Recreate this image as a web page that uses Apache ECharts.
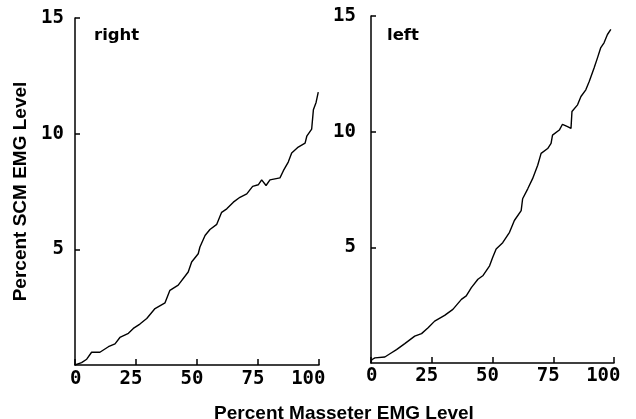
<!DOCTYPE html>
<html>
<head>
<meta charset="utf-8">
<script src="https://cdn.jsdelivr.net/npm/echarts@6/dist/echarts.min.js"></script>
<style>html,body{margin:0;padding:0;background:#fff}#c{width:636px;height:419px}</style>
</head>
<body>
<div id="c"></div>
<script>
// Panel "right": percent masseter EMG (x) vs percent SCM EMG (y)
const rightX = [0, 2.7, 4.8, 6.8, 10.2, 13.7, 16.4, 18.4, 21.9, 23.9, 26.6, 29.4, 32.8, 36.9, 38.9, 42.3, 46.4, 47.8, 50.5, 51.2, 53.3, 55.3, 58.1, 60.1, 62.2, 64.9, 67.6, 70.4, 72.8, 75.1, 76.5, 78.3, 79.9, 84, 85.4, 87.4, 88.8, 91.5, 94.3, 95, 97, 97.7, 98.8, 99.7];
const rightY = [0, 0.1, 0.25, 0.55, 0.55, 0.79, 0.91, 1.19, 1.37, 1.58, 1.77, 2.01, 2.44, 2.69, 3.23, 3.45, 4.02, 4.45, 4.81, 5.10, 5.60, 5.86, 6.08, 6.6, 6.75, 7.04, 7.25, 7.40, 7.72, 7.79, 8.0, 7.76, 8.0, 8.09, 8.4, 8.77, 9.16, 9.42, 9.59, 9.89, 10.2, 11.03, 11.35, 11.8];
// Panel "left"
const leftX = [0, 0.3, 1.6, 5.7, 7.8, 10.5, 13.9, 18, 20.8, 23.5, 26.2, 30.3, 33.7, 37.2, 39.2, 41.3, 44, 46, 48.8, 50.1, 51.5, 54.2, 57, 59, 61.8, 62.4, 64.5, 66.5, 68.6, 70, 72.7, 74.1, 74.7, 77.5, 78.8, 80.9, 82.3, 82.7, 85, 86.4, 88.4, 89.8, 91.8, 93.2, 94.5, 95.9, 97.3, 98.7];
const leftY = [0, 0.14, 0.22, 0.26, 0.40, 0.58, 0.84, 1.16, 1.27, 1.52, 1.81, 2.06, 2.32, 2.75, 2.90, 3.26, 3.62, 3.77, 4.20, 4.57, 4.93, 5.2, 5.65, 6.16, 6.59, 7.10, 7.53, 7.97, 8.55, 9.06, 9.27, 9.49, 9.85, 10.07, 10.32, 10.22, 10.14, 10.87, 11.16, 11.52, 11.81, 12.17, 12.75, 13.19, 13.62, 13.84, 14.2, 14.42];

const panelNames = ['right', 'left'];
const xAxisTitle = 'Percent Masseter EMG Level';
const yAxisTitle = 'Percent SCM EMG Level';
const xMin = 0, xMax = 100, xStep = 25;
const yMin = 0, yMax = 15, yStep = 5;

const zip = (a, b) => a.map((v, i) => [v, b[i]]);
const mono = { fontFamily: '"DejaVu Sans Mono", monospace', fontWeight: 'bold', fontSize: 19, color: '#000' };

function xAxisFor(gi) {
  return {
    gridIndex: gi, type: 'value', min: xMin, max: xMax, interval: xStep,
    axisLine: { show: true, lineStyle: { color: '#000', width: 1.5 } },
    axisTick: { show: true, inside: true, length: 6, lineStyle: { color: '#000', width: 1.5 } },
    splitLine: { show: false },
    axisLabel: {
      margin: gi === 0 ? 5 : 4,
      formatter: '{r|{value}}',
      rich: { r: Object.assign({ width: 13, align: 'right' }, mono) }
    }
  };
}
function yAxisFor(gi) {
  const ax = {
    gridIndex: gi, type: 'value', min: yMin, max: yMax, interval: yStep,
    axisLine: { show: true, lineStyle: { color: '#000', width: 1.5 } },
    axisTick: { show: true, inside: true, length: 5, lineStyle: { color: '#000', width: 1.5 } },
    splitLine: { show: false },
    axisLabel: Object.assign({ margin: gi === 0 ? 11 : 15, showMinLabel: false,
      formatter: v => (v === 0 ? '' : String(v)) }, mono)
  };
  if (gi === 0) {
    ax.name = yAxisTitle;
    ax.nameLocation = 'middle';
    ax.nameRotate = 90;
    ax.nameGap = 45;
    ax.nameTextStyle = { fontFamily: '"Liberation Sans", Arial, sans-serif', fontWeight: 'bold', fontSize: 19, color: '#000' };
  }
  return ax;
}

const chart = echarts.init(document.getElementById('c'), null, { renderer: 'canvas' });
chart.setOption({
  backgroundColor: '#fff',
  animation: false,
  title: [
    { text: panelNames[0], left: 89, top: 22, textStyle: { fontFamily: '"DejaVu Sans", sans-serif', fontWeight: 'bold', fontSize: 16.5, color: '#000' } },
    { text: panelNames[1], left: 382, top: 22, textStyle: { fontFamily: '"DejaVu Sans", sans-serif', fontWeight: 'bold', fontSize: 16.5, color: '#000' } },
    { text: xAxisTitle, left: 339, textAlign: 'center', top: 399, textStyle: { fontFamily: '"Liberation Sans", Arial, sans-serif', fontWeight: 'bold', fontSize: 19, color: '#000' } }
  ],
  grid: [
    { left: 75, top: 18, width: 244, bottom: 54 },
    { left: 371, top: 16, width: 243, bottom: 56 }
  ],
  xAxis: [xAxisFor(0), xAxisFor(1)],
  yAxis: [yAxisFor(0), yAxisFor(1)],
  series: [
    { name: panelNames[0], type: 'line', xAxisIndex: 0, yAxisIndex: 0, data: zip(rightX, rightY), showSymbol: false, lineStyle: { color: '#000', width: 1.4 } },
    { name: panelNames[1], type: 'line', xAxisIndex: 1, yAxisIndex: 1, data: zip(leftX, leftY), showSymbol: false, lineStyle: { color: '#000', width: 1.4 } }
  ]
});
</script>
</body>
</html>
